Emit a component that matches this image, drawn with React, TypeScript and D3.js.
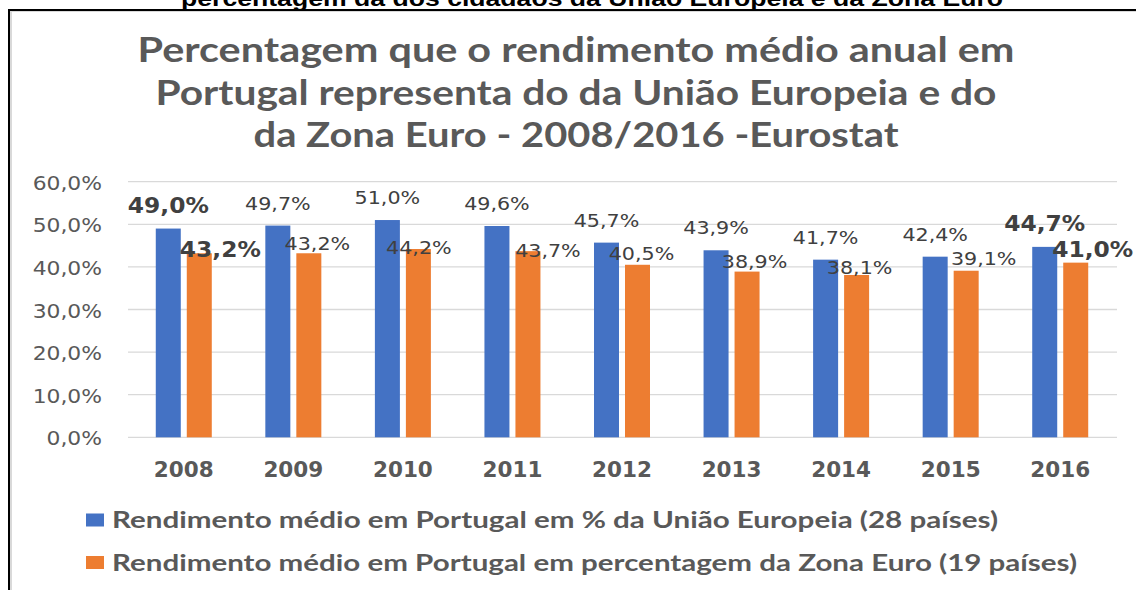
import React from 'react';
import * as d3 from 'd3';

const years = ['2008', '2009', '2010', '2011', '2012', '2013', '2014', '2015', '2016'];
const euValues = [49.0, 49.7, 51.0, 49.6, 45.7, 43.9, 41.7, 42.4, 44.7];
const euroValues = [43.2, 43.2, 44.2, 43.7, 40.5, 38.9, 38.1, 39.1, 41.0];
const yTicks = [0, 10, 20, 30, 40, 50, 60];
const seriesNames = [
  'Rendimento médio em Portugal em % da União Europeia (28 países)',
  'Rendimento médio em Portugal em percentagem da Zona Euro (19 países)',
];
const seriesKeys = ['eu', 'euro'];
const seriesColors = ['#4472C4', '#ED7D31'];
const boldYears = ['2008', '2016'];
const titleLines = [
  'Percentagem que o rendimento médio anual em',
  'Portugal representa do da União Europeia e do',
  'da Zona Euro - 2008/2016 -Eurostat',
];
const clippedHeading = 'percentagem da dos cidadãos da União Europeia e da Zona Euro';

// layout-only offsets of the orange labels (as manually placed in the original)
const euroLabelDx = [21, 8.5, 0.5, 20, 4, 7.5, 3, 17.5, 17];
const euroLabelDy = [3.4, -3, 4.7, 6, -5, -3.7, -0.7, -5.7, -5.6];

const fmt = (v: number) => v.toFixed(1).replace('.', ',') + '%';

const W = 1136;
const H = 590;
const plotLeft = 129;
const plotRight = 1115;
const gridLeft = 128;
const gridRight = 1117;

export default function App() {
  const x0 = d3.scaleBand<string>().domain(years).range([plotLeft, plotRight]).paddingInner(0).paddingOuter(0);
  const x1 = d3.scaleBand<string>().domain(seriesKeys).range([-28, 28]).paddingInner(0.1935).paddingOuter(0);
  const y = d3.scaleLinear().domain([0, 60]).range([437.3, 181.7]);

  const numFont = '"DejaVu Sans", Verdana, sans-serif';
  const titleFont = 'Lato, "Open Sans", sans-serif';

  const titleWidths = [877, 841, 645];
  const titleBaselines = [62, 105, 147];

  return (
    <svg width={W} height={H} style={{ position: 'absolute', left: 0, top: 0, background: '#fff' }}>
      <rect x={0} y={0} width={W} height={H} fill="#fff" />
      {/* clipped heading from the page above */}
      <text
        x={181}
        y={6}
        fontFamily='"Liberation Sans", Arial, sans-serif'
        fontWeight="bold"
        fontSize={22}
        fill="#000"
        textLength={822}
        lengthAdjust="spacingAndGlyphs"
      >
        {clippedHeading}
      </text>
      {/* frame */}
      <line x1={8} y1={10} x2={W} y2={10} stroke="#000" strokeWidth={2} />
      <line x1={9} y1={9} x2={9} y2={H} stroke="#000" strokeWidth={2} />
      <line x1={11} y1={11.5} x2={W} y2={11.5} stroke="#d9d9d9" strokeWidth={1} />
      <line x1={11} y1={11} x2={11} y2={H} stroke="#d9d9d9" strokeWidth={2} />

      {/* title */}
      {titleLines.map((t, i) => (
        <text
          key={t}
          x={576 - titleWidths[i] / 2}
          y={titleBaselines[i]}
          fontFamily={titleFont}
          fontWeight="bold"
          fontSize={35}
          fill="#595959"
          textLength={titleWidths[i]}
          lengthAdjust="spacingAndGlyphs"
        >
          {t}
        </text>
      ))}

      {/* gridlines */}
      {yTicks.map((t) => (
        <line key={t} x1={gridLeft} x2={gridRight} y1={y(t)} y2={y(t)} stroke="#d9d9d9" strokeWidth={1.3} />
      ))}
      {/* y labels */}
      {yTicks.map((t) => (
        <text
          key={'yl' + t}
          transform={`translate(102,${y(t) + 8}) scale(1.12,1)`}
          textAnchor="end"
          fontFamily={numFont}
          fontSize={19.5}
          fill="#595959"
        >
          {fmt(t)}
        </text>
      ))}

      {/* bars */}
      {years.map((yr, i) => {
        const cx = (x0(yr) as number) + x0.bandwidth() / 2;
        const bw = x1.bandwidth();
        const vals = [euValues[i], euroValues[i]];
        return (
          <g key={yr}>
            {seriesKeys.map((k, j) => (
              <rect
                key={k}
                x={cx + (x1(k) as number)}
                y={y(vals[j])}
                width={bw}
                height={y(0) - y(vals[j])}
                fill={seriesColors[j]}
              />
            ))}
          </g>
        );
      })}

      {/* data labels */}
      {years.map((yr, i) => {
        const cx = (x0(yr) as number) + x0.bandwidth() / 2;
        const bw = x1.bandwidth();
        const bold = boldYears.includes(yr);
        const bx = cx + (x1('eu') as number) + bw / 2;
        const ox = cx + (x1('euro') as number) + bw / 2 + euroLabelDx[i];
        const fs = bold ? 20.5 : 17.5;
        const sx = bold ? 1.14 : 1.18;
        return (
          <g key={'lab' + yr} fontFamily={numFont} fill="#404040" fontWeight={bold ? 'bold' : 'normal'} fontSize={fs}>
            <text transform={`translate(${bx},${y(euValues[i]) - 16}) scale(${sx},1)`} textAnchor="middle">
              {fmt(euValues[i])}
            </text>
            <text transform={`translate(${ox},${y(euroValues[i]) + euroLabelDy[i]}) scale(${sx},1)`} textAnchor="middle">
              {fmt(euroValues[i])}
            </text>
          </g>
        );
      })}

      {/* x labels */}
      {years.map((yr) => {
        const cx = (x0(yr) as number) + x0.bandwidth() / 2;
        return (
          <text
            key={'xl' + yr}
            transform={`translate(${cx},476.7) scale(1.05,1)`}
            textAnchor="middle"
            fontFamily={numFont}
            fontWeight="bold"
            fontSize={20.5}
            fill="#595959"
          >
            {yr}
          </text>
        );
      })}

      {/* legend */}
      {seriesNames.map((n, i) => {
        const cy = 520 + i * 42.5;
        const widths = [886, 965];
        return (
          <g key={n}>
            <rect x={86} y={cy - 6.5} width={18} height={13} fill={seriesColors[i]} />
            <text
              x={112}
              y={cy + 8}
              fontFamily={titleFont}
              fontWeight="bold"
              fontSize={22}
              fill="#595959"
              textLength={widths[i]}
              lengthAdjust="spacingAndGlyphs"
            >
              {n}
            </text>
          </g>
        );
      })}
    </svg>
  );
}
